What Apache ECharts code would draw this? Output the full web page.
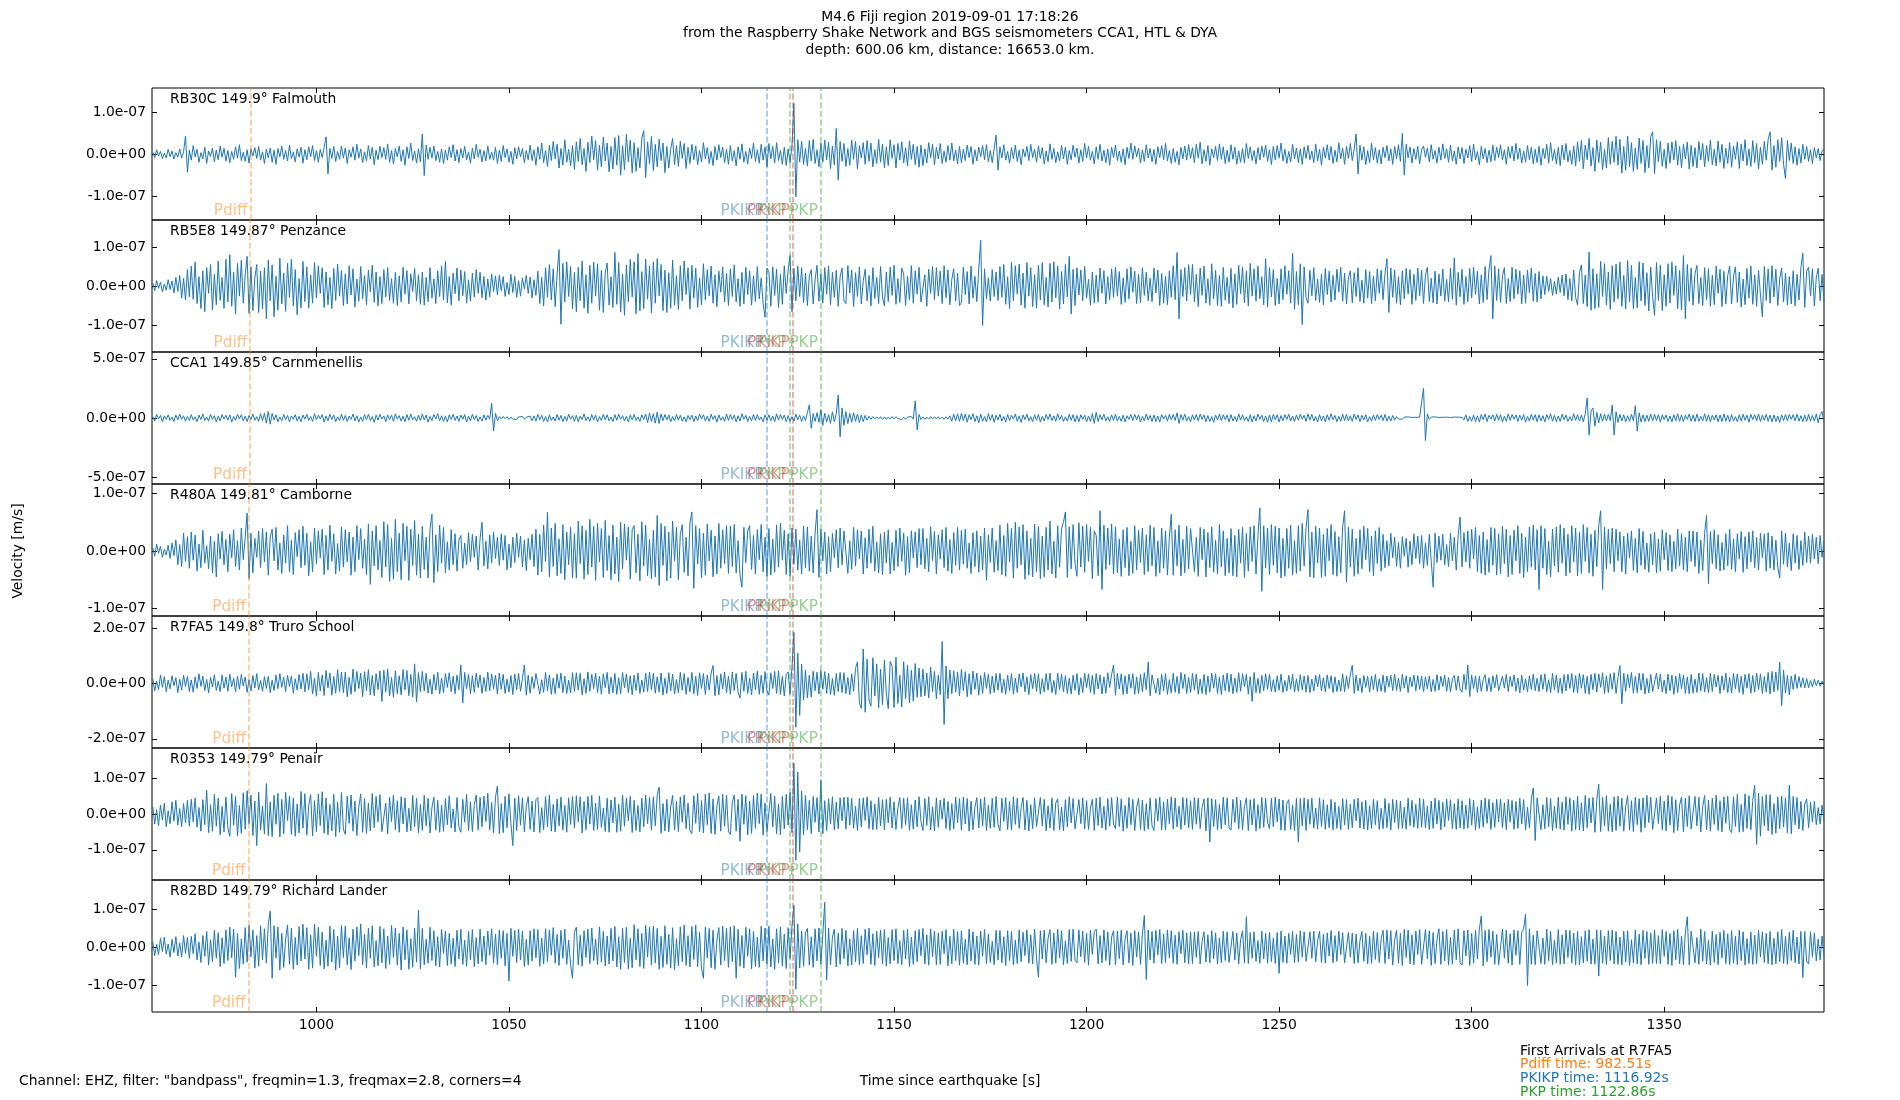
<!DOCTYPE html>
<html>
<head>
<meta charset="utf-8">
<title>M4.6 Fiji region 2019-09-01</title>
<script src="https://cdn.jsdelivr.net/npm/echarts@6/dist/echarts.min.js"></script>
<style>
  html, body { margin: 0; padding: 0; background: #fff; }
  #main { width: 1900px; height: 1100px; }
</style>
</head>
<body>
<div id="main"></div>
<script>
// velocity traces in nm/s, one value every half second from T0
var T0 = 957.5, DT = 0.5;

var rb30c = [
  5, -8, 11, -4, 7, -10, 3, -9, 12, -6, 8, -11, 4, -7, 13, -9, 6, 44, -43, 10,
  -14, 21, -6, 12, -19, 4, -11, 17, -22, 8, -5, 15, -18, 10, -13, 20, -7, 14, -16, 9,
  -20, 7, -12, 18, -9, 23, -15, 5, -17, 11, -21, 13, -4, 16, -10, 19, -14, 6, -22, 12,
  -8, 15, -19, 10, -24, 14, -6, 20, -12, 9, -16, 22, -11, 5, -18, 13, -7, 17, -21, 11,
  -13, 18, -6, 21, -15, 9, -19, 12, -8, 16, 42, -47, 14, -10, 19, -17, 7, -12, 20, -9,
  15, -22, 11, -7, 18, -14, 24, -9, 13, -20, 6, -16, 21, -11, 17, -25, 10, -13, 19, -8,
  16, -12, 25, -19, 9, -23, 14, -6, 20, -17, 11, -26, 18, -10, 27, -15, 8, -21, 13, -18,
  49, -51, 22, -12, 17, -9, 20, -15, 7, -19, 13, -22, 10, -14, 18, -8, 23, -16, 11, -20,
  14, -9, 19, -13, 6, -21, 15, -11, 24, -7, 12, -18, 9, -16, 20, -12, 5, -14, 17, -22,
  10, -17, 21, -8, 13, -19, 7, -24, 16, -11, 18, -6, 14, -20, 9, -13, 22, -15, 11, -26,
  18, -12, 27, -20, 9, -29, 22, -15, 31, -11, 24, -33, 14, -26, 35, -19, 12, -28, 21, -36,
  30, -17, 38, -25, 14, -41, 29, -20, 44, -13, 33, -38, 22, -30, 41, -16, 27, -42, 19, -35,
  40, -26, 45, -50, 21, -37, 48, -18, 34, -44, 28, -41, 16, -33, 39, 57, -56, 30, -23, 43,
  -39, 24, -30, 36, -15, 27, -44, 19, -33, 12, 38, -25, 21, -29, 31, -10, 26, -34, 17, -22,
  24, -13, 20, -25, 9, -18, 28, -11, 16, -22, 7, -27, 19, -14, 23, -8, 17, -20, 12, -24,
  21, -16, 9, -28, 18, -12, 25, -19, 7, -23, 15, -10, 27, -17, 11, -21, 24, -14, 18, -30,
  26, -11, 19, -21, 28, -15, 9, -24, 17, -27, 13, -20, 22, 122, -102, 35, -18, 31, -24, 14,
  -28, 33, -16, 36, -22, 11, -30, 27, -19, 34, -13, 29, -34, 20, -25, 62, -62, 31, -17, 26,
  -29, 14, -26, 34, -12, 31, -35, 21, -9, 28, -24, 33, -17, 27, -30, 11, -22, 36, -19, 25,
  -32, 18, -27, 35, -10, 23, -33, 26, -14, 30, -21, 16, -28, 32, -12, 24, -25, 19, -31, 22,
  -27, 13, -21, 28, -9, 24, -25, 17, -11, 26, -22, 8, -19, 21, -14, 27, -16, 10, -23, 19,
  -20, 12, -15, 22, -8, 19, -24, 11, -16, 17, -6, 21, -13, 23, -18, 9, -20, 14, 46, -38,
  18, -9, 23, -14, 7, -21, 16, -11, 22, -17, 10, -25, 13, -6, 19, -15, 24, -8, 12, -19,
  20, -10, 16, -23, 8, -18, 25, -12, 14, -20, 6, -16, 21, -11, 17, -24, 9, -13, 22, -7,
  15, -21, 11, -17, 26, -9, 19, -14, 7, -23, 18, -12, 24, -16, 10, -20, 13, -26, 17, -8,
  22, -15, 8, -19, 13, -25, 17, -10, 27, -12, 20, -6, 15, -21, 11, -17, 23, -9, 14, -18,
  12, -24, 18, -8, 21, -13, 26, -16, 9, -22, 14, -19, 7, -25, 17, -11, 20, -14, 23, -10,
  16, -20, 24, -9, 29, -23, 11, -17, 21, -26, 13, -8, 19, -15, 25, -12, 18, -22, 10, -19,
  23, -12, 17, -24, 8, -19, 14, -21, 26, -10, 18, -15, 9, -23, 16, -13, 20, -7, 22, -17,
  11, -25, 19, -14, 21, -9, 27, -16, 12, -22, 7, -18, 24, -11, 15, -20, 13, -24, 18, -10,
  21, -13, 8, -20, 25, -16, 12, -26, 17, -9, 23, -14, 19, -22, 10, -18, 28, -11, 15, -24,
  19, -10, 26, -15, 12, 49, -47, 22, -14, 18, -25, 9, -20, 27, -13, 16, -21, 11, -23, 17,
  -8, 21, -16, 13, -24, 19, -11, 23, -17, 50, -50, 24, -9, 18, -21, 14, -12, 19, -23, 10,
  20, -7, 15, -18, 23, -12, 9, -21, 17, -14, 25, -10, 13, -19, 22, -16, 8, -24, 18, -11,
  16, -22, 12, -9, 21, -17, 24, -13, 7, -25, 19, -11, 14, -20, 10, -18, 22, -15, 17, -8,
  23, -14, 11, -24, 18, -9, 20, -16, 26, -12, 15, -21, 8, -19, 21, -13, 17, -23, 12, -20,
  19, -26, 14, -10, 24, -21, 28, -15, 11, -23, 17, -27, 22, -13, 26, -18, 9, -24, 20, -28,
  30, -17, 33, -35, 22, -13, 38, -28, 16, -41, 34, -20, 29, -37, 12, -33, 40, -24, 31, -19,
  43, -26, 36, -45, 19, -38, 44, -30, 28, -41, 15, -36, 39, -22, 33, -44, 21, -33, 42, 54,
  -46, 35, -18, 31, -29, 12, -34, 27, -21, 30, -14, 33, -26, 19, -32, 24, -11, 29, -35, 22,
  -29, 16, -33, 31, -13, 26, -30, 21, -17, 34, -25, 12, -28, 32, -19, 24, -34, 15, -22, 28,
  -31, 20, -12, 30, -34, 25, -16, 35, -27, 13, -29, 33, -20, 26, -35, 17, -24, 31, -14, 36,
  54, -38, 21, -31, 35, -17, 40, -24, -58, 33, -15, 27, -22, 18, -26, 14, -21, 24, -12, 19,
  -17, 11, -22, 16, -9, 14, -15, 8, 12
];

var rb5e8 = [
  8, -12, 14, -6, 10, -15, 5, -11, 16, -9, 13, -18, 22, -14, 27, -31, 20, -36, 42, -28,
  51, -34, 62, -45, 24, -58, 39, -66, 47, -19, 55, -61, 30, -48, 64, -37, 22, -57, 68, -41,
  80, -52, 35, -71, 58, -26, 66, -44, 29, 76, -70, 49, -63, 21, 55, -68, 38, -59, 47, -84,
  67, -38, 54, -79, 25, -62, 71, -46, 33, -65, 58, -29, 69, -51, 42, -74, 19, -56, 63, -40,
  49, -57, 28, -44, 60, -31, 52, -19, 47, -55, 36, -48, 22, -58, 45, -37, 56, -26, 40, -50,
  31, -46, 52, -23, 44, -54, 18, -39, 50, -33, 27, -48, 41, -15, 53, -42, 36, -51, 24, -45,
  42, -28, 47, -37, 19, -44, 35, -50, 26, -41, 48, -21, 39, -46, 31, -14, 45, -38, 29, -47,
  36, -49, 22, -40, 47, -31, 18, -45, 39, -27, 51, -36, 63, -43, 24, -49, 33, -20, 46, -38,
  41, -25, 37, -44, 16, -39, 33, -28, 42, -19, 35, -30, 24, -36, 18, -28, 31, -14, 26, -22,
  28, -12, 24, -27, 9, -22, 30, -17, 25, -29, 14, -26, 21, -8, 27, -19, 23, -31, 16, -24,
  38, -45, 22, -51, 47, -29, 55, -36, 44, -53, 31, 93, -98, 58, -41, 62, -27, 50, -59, 35,
  -66, 48, -38, 64, -57, 29, -70, 53, -44, 61, -25, 57, -62, 40, -68, 33, 59, -49, 24, -55,
  86, -47, 60, -67, 31, -75, 54, -40, 68, -28, 62, -71, 83, -64, 37, -58, 69, -33, 51, -69,
  62, -44, 70, -25, 55, -63, 41, -68, 34, -57, 66, -49, 27, -60, 52, -38, 64, -22, 47, -59,
  53, -31, 46, -55, 20, -48, 57, -36, 42, -25, 51, -44, 29, -53, 38, -16, 49, -41, 33, -50,
  44, -27, 54, -41, 19, -52, 35, -46, 48, -22, 39, -49, 26, -40, 50, -33, 21, -44, -80, 46,
  37, -52, 49, -24, 43, -55, 30, -47, 52, -19, 41, 78, -66, 45, -38, 51, -27, 47, -43, 33,
  -50, 26, 42, -46, 17, 53, -39, 31, -44, 47, -21, 51, -48, 35, -29, 40, -52, 24, 46, -37,
  -45, 52, -18, 41, -53, 34, -27, 49, -46, 13, 43, -38, 27, -51, 47, -32, 22, -45, 50, -28,
  -51, 36, -40, 48, -24, 53, -47, 19, -42, 46, 31, -50, 25, -36, 52, -44, 39, -21, 48, -41,
  -44, 29, -52, 43, -19, 50, -35, 47, -26, 38, -45, 52, -30, 41, -48, 17, 44, -39, 33, -50,
  -43, 48, -22, 37, -46, 51, -31, 25, -40, 44, 117, -101, 44, -33, 21, -39, 42, -27, 36, -37,
  50, -29, 55, -47, 24, -58, 61, -38, 52, -21, 56, -49, 33, -57, 60, -26, 47, -53, 29, -57,
  53, -36, 60, -48, 22, -54, 58, -41, 62, -30, 51, -59, 37, -46, 55, -28, 76, -72, 43, -50,
  47, -23, 41, -38, 50, -31, 17, -49, 36, -44, 28, -41, 46, -19, 39, -46, 24, -35, 44, -29,
  48, -26, 37, -47, 21, -42, 44, -33, 49, -16, 38, -45, 30, -43, 47, -24, 35, -38, 20, -40,
  46, -18, 41, -50, 32, -44, 25, -48, 39, -29, 52, -35, 86, -84, 42, -27, 47, -38, 55, -22,
  55, -41, 30, -53, 46, -24, 51, -44, 18, -49, 57, -33, 40, -50, 27, -52, 48, -36, 22, -45,
  45, -56, 31, -47, 53, -20, 49, -43, 38, -51, 58, -26, 44, -39, 51, -32, 24, -48, 70, -54,
  47, -28, 42, -50, 19, -46, 44, -35, 52, -21, 39, -44, 84, -60, 37, -48, 57, -99, 49, -30,
  -44, 40, -25, 47, -37, 18, -42, 31, -48, 45, -22, 38, -41, 27, -36, 43, -16, 48, -39, 33,
  -46, 21, 39, -43, 34, -27, 47, -40, 15, -44, 42, -31, 37, -45, 26, -38, 44, -19, 41, -35,
  32, 70, -68, 46, -29, 41, -44, 24, -48, 39, -33, 45, -21, 42, -47, 30, -37, 46, -25, 41,
  -45, 28, 48, -40, 20, -43, 38, -46, 31, -26, 44, -39, 17, -41, 46, -34, 72, -49, 35, -28,
  43, -47, 24, -40, 45, -31, 48, -22, 38, -46, 29, -42, 50, -35, 41, 78, -84, 51, -37, 44,
  -42, 26, 47, -45, 19, -40, 48, -33, 43, -21, 39, -46, 28, -44, 41, -17, 46, -39, 32, -41,
  37, -33, 26, -22, 25, -14, 19, -24, 12, -21, 23, -17, 28, -25, 31, -35, 19, -38, 41, -29,
  -49, 34, 54, -45, 28, -53, 87, -62, 44, -58, 31, -55, 63, -27, 57, -49, 36, -60, 52, -41,
  56, -33, 61, -52, 27, -59, 65, -41, 53, -58, 22, -56, 62, -38, 59, -50, 34, -64, 48, -29,
  -75, 60, -37, 54, -63, 29, -52, 57, -44, 61, -24, 52, -58, 40, -61, 78, -84, 55, -39, 46,
  -49, 31, 53, -45, 22, -50, 47, -36, 44, -52, 28, -48, 51, -19, 43, -53, 38, -46, 27, 51,
  -46, 25, 49, -42, 36, -54, 18, -48, 45, -31, 51, -47, 29, -52, 40, -23, -79, 50, -37, 44,
  -44, 52, -28, 43, -50, 19, 46, -41, 33, -49, 24, -46, 39, -51, 30, -36, 47, 84, -55, 38,
  48, -26, 44, -51, 22, 46, -38, 30, -42
];

var cca1 = [
  14, -26, 31, -9, 22, -33, 18, -12, 27, -20, 8, -29, 24, -16, 33, -11, 19, -27, 13, -22,
  28, -17, 10, -31, 25, -14, 34, -21, 7, -26, 30, -12, 19, -33, 15, -24, 29, -8, 23, -18,
  26, -35, 12, -20, 31, -9, 27, -24, 16, -30, 21, -13, 34, -19, 11, -28, 36, -22, 40, -44,
  56, -52, 38, -17, 27, -31, 9, -24, 30, -15, 22, -33, 18, -11, 29, -26, 14, -32, 25, -10,
  31, -20, 13, -29, 35, -16, 24, -8, 28, -34, 17, -23, 32, -12, 26, -30, 10, -21, 33, -19,
  22, -30, 16, -11, 34, -25, 19, -33, 9, -27, 28, -14, 31, -22, 12, -36, 24, -17, 30, -9,
  18, -32, 27, -13, 23, -28, 35, -10, 20, -26, 14, -31, 29, -19, 33, -15, 11, -27, 25, -21,
  32, -16, 24, -35, 13, -22, 30, -9, 37, -25, 19, -28, 15, -33, 26, -12, 31, -20, 17, -29,
  25, -11, 29, -34, 16, -23, 33, -14, 21, -30, 10, -26, 27, -18, 22, -9, 124, -110, 40, -22,
  12, -9, 14, -6, 11, -13, 8, -10, 5, -12, 9, -7, 13, -11, 6, -9, 16, -24, 18, -27,
  31, -15, 24, -29, 12, -33, 27, -20, 9, -25, 30, -18, 22, -31, 14, -26, 33, -11, 19, -28,
  23, -30, 16, -13, 34, -22, 10, -27, 29, -17, 25, -33, 12, -21, 31, -15, 27, -24, 8, -30,
  28, -19, 32, -11, 20, -26, 14, -34, 24, -16, 30, -22, 9, -29, 27, -13, 33, -38, 41, -30,
  36, -44, 50, -47, 35, -22, 29, -15, 26, -31, 12, -24, 30, -18, 23, -27, 10, -33, 21, -14,
  25, -31, 17, -22, 33, -9, 28, -24, 15, -29, 32, -12, 20, -35, 26, -18, 11, -28, 34, -21,
  30, -14, 24, -33, 19, -27, 36, -11, 23, -30, 13, -25, 31, -20, 28, -16, 9, -32, 26, -19,
  27, -23, 15, -31, 35, -18, 29, -12, 25, -32, 20, -28, 11, -26, 33, -15, 24, -30, 18, -22,
  45, 110, -87, 38, -29, 44, -36, 70, -62, 41, -35, 28, -46, 52, -31, 36, 194, -158, 85, -62,
  54, -47, 40, -36, 44, -28, 33, -38, 25, -30, 22, -18, 15, -11, 12, -9, 10, -8, 11, -12,
  9, -12, 7, -10, 13, -8, 11, -6, 10, -13, 8, -11, 7, -9, 12, -10, 144, -100, 30, -14,
  9, -11, 7, -10, 12, -8, 10, -7, 11, -9, 8, -12, 10, -9, 18, -26, 31, -24, 35, -29,
  38, -22, 33, -35, 27, -14, 36, -31, 19, -40, 34, -28, 12, -33, 37, -20, 29, -36, 24, -17,
  32, -27, 13, -35, 30, -21, 24, -9, 33, -28, 18, -36, 26, -14, 31, -23, 11, -30, 27, -19,
  29, -34, 15, -25, 30, -12, 33, -22, 18, -27, 35, -16, 23, -30, 10, -26, 31, -19, 28, -33,
  21, -31, 28, -13, 24, -33, 17, -29, 37, -45, 48, -30, 27, -15, 32, -24, 11, -28, 26, -20,
  32, -26, 14, -28, 24, -33, 19, -11, 29, -22, 31, -16, 27, -34, 13, -25, 34, -18, 22, -30,
  25, -30, 17, -35, 28, -9, 23, -26, 31, -14, 29, -21, 44, -46, 29, -18, 33, -24, 12, -31,
  27, -15, 30, -24, 34, -12, 26, -31, 20, -29, 11, -36, 25, -17, 32, -22, 28, -13, 24, -33,
  29, -26, 13, -31, 35, -18, 27, -22, 10, -30, 28, -34, 19, -25, 33, -11, 24, -29, 16, -35,
  25, -32, 30, -14, 27, -34, 21, -24, 29, -12, 33, -26, 17, -30, 26, -19, 32, -10, 23, -28,
  35, -17, 31, -26, 12, -33, 29, -24, 18, -32, 27, -20, 36, -15, 22, -31, 14, -28, 32, -23,
  30, -25, 19, -29, 34, -13, 27, -31, 23, -16, 28, -32, 11, -26, 25, -20, 30, -14, 24, -22,
  30, -27, 15, -26, 22, -18, 12, -9, 7, -10, 8, -6, 9, -7, 5, -8, 6, -4, 7, -5,
  250, -190, 35, -12, 8, -6, 9, -7, 5, -8, 6, -5, 7, -9, 4, -6, 8, -5, 7, -6,
  5, -15, 26, -30, 12, -27, 24, -31, 18, -35, 30, -14, 34, -29, 23, -10, 27, -25, 31, -20,
  28, -33, 14, -27, 35, -22, 30, -11, 26, -28, 24, -19, 29, -35, 13, -26, 31, -17, 28, -31,
  26, -24, 19, -33, 29, -12, 35, -27, 22, -31, 17, -29, 33, -15, 25, -30, 11, -24, 36, -20,
  28, -26, 24, -32, 36, 169, -144, 60, 85, -70, 48, -40, 36, -28, 33, -25, 30, -22, 110, -144,
  52, -38, 30, -25, 28, -33, 19, -27, 31, -24, 104, -110, 44, -33, 27, -30, 24, -28, 33, -26,
  31, -22, 29, -35, 27, -14, 25, -30, 17, -33, 28, -24, 36, -29, 26, -31, 23, -12, 34, -27,
  25, -30, 33, -28, 14, -24, 36, -29, 26, -31, 23, -17, 28, -32, 26, -30, 35, -27, 23, -34,
  29, -25, 11, -31, 28, -26, 32, -19, 24, -35, 30, -13, 27, -23, 34, -29, 25, -20, 31, -28,
  24, -33, 27, -30, 16, -36, 26, -22, 29, -25, 31, -12, 28, -24, 33, -27, 20, -31, 25, -29,
  31, -28, 22, -26, 34, -40, 29, 55, -40
];

var r480a = [
  6, -9, 12, -4, 8, -11, 3, -7, 10, -13, 14, -8, 19, -24, 11, -27, 31, -18, 25, -30,
  33, -16, 28, -35, 12, -29, 36, -21, 9, -31, 26, -38, 17, -45, 30, -14, 34, -24, 20, -36,
  29, -12, 37, -27, 18, -33, 40, -15, 24, 66, -48, 31, -38, 22, -11, 35, -29, 39, -19, 33,
  -42, 24, 38, -17, 41, -33, 14, -39, 28, -21, 44, -36, 19, -41, 32, -10, 37, -29, 43, -25,
  31, -43, 16, -36, 40, -22, 35, -12, 38, -41, 27, -33, 45, -18, 30, -40, 13, -35, 42, -28,
  37, -19, 33, -42, 24, -36, 44, -15, 39, -30, 21, -41, 47, -58, 35, -26, 44, -33, 18, -46,
  51, -28, 46, -53, 22, -49, 55, -36, 31, -50, 48, -17, 43, -51, 38, -25, 53, -42, 29, -47,
  43, -32, 24, -47, 39, 64, -55, 28, -36, 45, -21, 41, -38, 16, -33, 37, -24, 30, -35, 19,
  27, -30, 14, -24, 32, -19, 29, -11, 26, -33, 22, 50, -26, 17, -31, 28, -21, 33, -13, 24,
  -25, 30, -16, 27, -33, 12, -29, 24, -20, 31, -11, 26, -28, 19, -34, 22, -15, 29, -27, 38,
  -42, 29, -36, 45, -18, 67, -45, 40, -27, 48, -43, 21, -39, 46, -50, 33, -24, 41, -47, 30,
  -47, 52, -22, 44, -49, 36, -41, 55, -28, 43, -51, 48, -19, 39, -46, 53, -34, 27, -50, 45,
  -40, 24, -53, 50, -31, 47, -16, 42, -49, 37, 44, -38, 29, -52, 51, -26, 45, -43, 20, -48,
  36, -45, 62, -60, 48, -25, 43, -52, 33, -47, 52, -18, 41, -50, 29, 46, -37, 24, -43, 49,
  68, -65, 44, -23, 39, -47, 31, -42, 47, -17, 36, -45, 26, -40, 48, -30, 37, -22, 44, -39,
  43, -27, 46, -38, 18, -41, -63, 41, -20, 35, 44, -32, 27, -40, 37, -15, 46, -36, 24, -44,
  39, -42, 21, -37, 45, -28, 48, -16, 36, -41, 30, -44, 40, -23, 38, -33, 19, -40, 43, -29,
  42, -35, 26, -38, 31, 72, -46, 38, -17, 33, -40, 25, -36, 31, -12, 37, -29, 40, -24, 35,
  34, -39, 18, -32, 41, -26, 37, -14, 35, -40, 23, -30, 38, -21, 43, -35, 16, -38, 30, -41,
  33, -21, 37, -40, 15, -34, 36, -27, 40, -18, 31, -42, 25, -38, 35, -12, 33, -29, 39, -24,
  39, -31, 22, -36, 42, -17, 34, -40, 28, -14, 37, -29, 41, -35, 20, -39, 32, -25, 41, -33,
  36, -23, 38, -30, 14, -39, 32, -27, 35, -37, 26, -33, 40, -51, 28, -20, 40, -37, 18, -34,
  45, -41, 27, -44, 48, -19, 39, -47, 50, -30, 42, -24, 46, -49, 35, -42, 22, -45, 47, -36,
  43, -48, 26, -45, 41, -33, 52, -40, 17, -47, 44, -28, 39, 50, 68, -46, 42, -31, 46, -22,
  -44, 49, -28, 43, -37, 46, -18, 41, -48, 35, 27, -43, 70, -67, 45, -32, 40, -24, 47, -40,
  42, -38, 21, -44, 37, -29, 41, -43, 17, -39, 44, -33, 36, -20, 40, -41, 28, -36, 45, -26,
  41, -44, 18, -38, 40, -30, 35, -42, 24, 64, -42, 37, -26, 45, -43, 20, -38, 43, -31, 39,
  40, -36, 24, -44, 41, -15, 38, -45, 32, -29, 42, -37, 19, -40, 46, -28, 35, -43, 22, -38,
  39, -43, 27, -45, 38, -21, 41, -46, 31, -35, 42, -18, 44, -40, 27, 75, -70, 44, -29, 40,
  -41, 46, -25, 43, -38, 40, -47, 22, -44, 39, -30, 45, -42, 18, -39, 44, -35, 48, -26, 41,
  72, -45, 33, -47, 43, -21, 40, -46, 29, -44, 39, -17, 46, -41, 34, -44, 25, -38, 42, 70,
  -54, 42, -28, 38, -44, 22, -40, 37, -31, 43, -15, 39, -36, 26, -43, 35, -22, 41, -35, 29,
  -29, 18, -26, 31, -12, 24, -27, 15, -30, 25, -9, 22, -28, 17, -24, 30, -13, 26, -22, 27,
  -30, 14, -25, 29, -18, -63, 31, -20, 26, -16, 29, -24, 11, -27, 31, -17, 24, -33, 28, 59,
  -28, 32, -19, 35, -30, 38, -14, 41, -36, 27, -39, 33, -42, 20, -37, 41, -25, 39, -42, 30,
  -40, 43, -22, 38, -45, 27, -41, 36, -17, 44, -39, 31, -46, 24, -36, 42, -28, 45, -33, 37,
  -67, 44, -30, 39, -41, 17, -45, 38, -26, 42, -37, 46, -21, 40, -43, 29, -38, 44, -19, 40,
  -43, 33, -39, 46, -18, 41, -38, 29, -44, 36, -27, 44, 70, -67, 42, -31, 38, -22, 40, -36,
  38, -17, 33, -36, 26, -40, 31, -12, 35, -34, 22, -38, 39, -25, 34, -32, 14, -37, 30, -24,
  33, -38, 21, -35, 37, -15, 32, -34, 28, -36, 17, -31, 38, -26, 30, -33, 24, -36, 35, -18,
  35, -27, 33, -39, 19, -34, 31, 62, -57, 34, -22, 37, -31, 28, -35, 15, -33, 30, -26, 38,
  -32, 21, -36, 30, -14, 34, -37, 25, -31, 33, -19, 35, -29, 24, -33, 31, -12, 29, -35, 32,
  -30, 26, -33, 19, -29, -47, 35, -23, 31, -28, 14, -34, 30, -21, 27, -32, 18, -25, 33, -20,
  26, -21, 29, -14, 24, -22, 27, -11, 19
];

var r7fa5 = [
  18, -27, 9, -22, 31, -14, 25, -30, 12, -19, 28, -8, 21, -33, 16, -24, 30, -11, 26, -29,
  13, -31, 24, -18, 35, -10, 27, -26, 15, -34, 22, -13, 32, -25, 8, -29, 31, -17, 23, -28,
  34, -12, 19, -30, 26, -21, 33, -9, 24, -32, 14, -27, 29, -16, 36, -23, 11, -28, 25, -18,
  26, -33, 12, -25, 31, -19, 36, -14, 22, -29, 30, -11, 27, -35, 17, -24, 33, -20, 37, -30,
  35, -22, 44, -38, 19, -46, 40, -27, 31, -43, 47, -16, 38, -42, 25, -35, 50, -29, 41, -33,
  41, -48, 23, -39, 52, -30, 44, -18, 37, -47, 43, -26, 50, -41, 29, -44, 36, -22, 46, -65,
  48, -31, 53, -45, 22, -50, 46, -37, 28, -41, 51, -24, 47, -44, 33, -49, 71, -66, 40, -30,
  44, -27, 37, -35, 16, -39, 33, -24, 41, -38, 20, -33, 36, -14, 39, -30, 26, -37, 31, -22,
  67, -70, 40, -19, 34, -37, 28, -32, 38, -15, 31, -36, 22, -29, 41, -26, 35, -20, 30, -38,
  38, -21, 33, -36, 16, -31, 29, -40, 34, -23, 37, -28, 19, 67, -42, 30, -35, 25, -18, 36,
  33, -38, 14, -32, 40, -26, 31, -39, 20, -37, 35, -17, 38, -33, 27, -36, 12, -34, 39, -29,
  39, -24, 37, -41, 18, -36, 42, -28, 33, -19, 38, -32, 26, -39, 35, -15, 40, -37, 23, -34,
  36, -39, 21, -37, 40, -16, 35, -33, 28, -41, 30, -25, 38, -36, 13, -31, 37, -29, 41, -22,
  37, -35, 24, -31, 38, -42, 19, -36, 39, -27, 34, -38, 15, -33, 40, -24, 36, -39, 22, -30,
  40, -37, 26, -43, 39, -18, 36, -40, 31, -24, 38, 65, -44, 29, -41, 35, -20, 42, -33, 27,
  -39, 42, -25, 37, -31, -53, 40, -28, 44, -36, 19, -41, 38, -23, 45, -39, 30, -35, 43, -26,
  -42, 39, -18, 44, -36, 46, -40, 27, -45, 33, 42, -38, 60, 185, -158, 110, -115, 70, -60, 48,
  -52, 30, -49, 44, -26, 41, -38, 47, -21, 43, -36, 38, -40, 18, -43, 36, -29, 40, -33, 39,
  -37, 22, -41, 35, -28, 55, 78, -70, -90, 125, -104, 88, -60, -82, 93, -45, 71, -88, 52, -76,
  84, -35, -91, 80, 62, -87, 95, -72, 30, -85, 79, -55, 67, -70, 48, -64, 72, -50, 56, -48,
  52, -45, 38, -52, 60, -29, 44, -55, 31, -40, 152, -148, 64, -55, 49, -37, 46, -31, 42, -44,
  51, -26, 43, -48, 35, -40, 45, -21, 38, -42, 29, -36, 40, -18, 34, -38, 27, -33, 36, -24,
  37, -34, 15, -39, 31, -26, 36, -38, 20, -33, 35, -12, 38, -30, 24, -40, 32, -19, 37, -28,
  35, -39, 18, -31, 36, -24, 38, -33, 11, -40, 37, -22, 34, -30, 28, -36, 19, -38, 30, -25,
  36, -41, 21, -33, 38, -15, 35, -32, 29, -39, 36, -20, 31, -38, 24, -35, 39, -14, 33, 67,
  -42, 37, -20, 35, -40, 28, -38, 34, -17, 36, -39, 24, -36, 33, -30, 39, -22, 77, -44, 31,
  38, -35, 19, -41, 33, -27, 36, -39, 14, -34, 37, -32, 26, -37, 40, -18, 34, -36, 22, -32,
  37, -24, 34, -39, 16, -36, 33, -40, 27, -31, 38, -17, 35, -36, 23, -40, 31, -26, 38, -30,
  34, -37, 20, -32, 39, -28, 36, -12, 33, -38, 25, -65, 40, -33, 19, -35, 30, -26, 35, -21,
  33, -29, 14, -31, 28, -24, 34, -32, 11, -27, 30, -20, 34, -31, 17, -28, 32, -23, 27, -31,
  29, -33, 16, -27, 30, -12, 32, -26, 21, -30, 31, -18, 28, -33, 24, -29, 13, -28, 35, -30,
  28, -18, 33, 66, -36, 30, -27, 20, -33, 29, -14, 26, -31, 28, -22, 33, -29, 17, -28, 31,
  -32, 27, -13, 30, -26, 34, -25, 19, -29, 33, -17, 28, -33, 24, -12, 31, -26, 29, -21, 27,
  -29, 24, -19, 27, -30, 15, -28, 32, -24, 26, -11, 31, -28, 22, -30, 17, 29, -24, 27, -20,
  -31, 33, -22, 67, -47, 30, -18, 27, -33, 26, -29, 14, 32, -28, 21, -30, 28, -15, 32, -26,
  -30, 27, -17, 33, -29, 25, -12, 31, -28, 20, -34, 30, -24, 16, -30, 28, -21, 34, -26, 19,
  -29, 32, -21, 35, -30, 14, -33, 37, -24, 31, -34, 19, -36, 32, -27, 34, -18, 36, -32, 29,
  -34, 38, -17, 32, -36, 26, -39, 33, -22, 37, -31, 35, -14, 39, -37, 28, -33, 36, -21, 39,
  -36, 22, 65, -73, 37, -28, 34, -15, 40, -35, 26, -33, 38, -24, 36, -38, 18, -34, 33, -29,
  -33, 38, -20, 35, -31, 13, -37, 34, -26, 30, -39, 27, -33, 36, -19, 31, -35, 24, -37, 33,
  -35, 16, -32, 38, -27, 36, -31, 21, -34, 37, -29, 33, -13, 30, -37, 28, -24, 38, -33, 22,
  -34, 37, -19, 35, -32, 26, -39, 33, -17, 36, -35, 29, -31, 38, -22, 34, -36, 25, -31, 40,
  -38, 44, -30, 41, -25, 77, -80, 48, -35, 29, -41, 27, -21, 33, -18, 25, -14, 21, -16, 18,
  -15, 11, -13, 16, -8, 12, -10, 9, -7
];

var r0353 = [
  21, -28, 12, -33, 25, -17, 30, -36, 9, -27, 34, -20, 38, -31, 15, -35, 29, -24, 38, -34,
  41, -22, 45, -37, 18, -48, 40, -30, 66, -52, 26, -48, 55, -34, 44, -58, 21, -50, 47, -39,
  -62, 57, -31, 49, -61, 24, -54, 59, -43, 65, -27, 53, -60, 36, -88, 61, -45, 22, -56, 85,
  -60, 34, -63, 52, -29, 58, -64, 41, -55, 61, -18, 50, -57, 44, -62, 28, -53, 63, -39, 57,
  -59, 24, 54, -61, 37, -49, 56, -32, 62, -53, 45, -58, 27, -47, 55, -63, 33, -51, 60, -42,
  -57, 50, -26, 53, -48, 36, -60, 19, 56, -51, 43, -54, 31, -47, 57, -38, 49, -22, 54, -49,
  -52, 30, -55, 46, -21, 53, -44, 37, -51, 48, -28, 45, -50, 16, -47, 52, -35, 44, -53, 27,
  -46, 52, -33, 44, -53, 19, 47, -45, 38, -51, 25, -48, 43, -30, 51, -39, 14, -50, 46, -37,
  -51, 41, -23, 55, -47, 34, -49, 26, 53, -44, 46, -36, 50, -21, 58, -44, 32, -53, 48, 78,
  -55, 29, -52, 49, -38, 56, -26, -88, 44, -47, 51, -31, 45, -50, 22, 48, -43, 36, -50, 40,
  46, -52, 18, -44, 49, -36, 53, -48, 27, -50, 42, -33, 47, -45, 24, -51, 45, -29, 49, -39,
  51, -22, 48, -53, 35, -44, 49, -28, 52, -46, 30, -43, 50, -37, 16, -49, 44, -51, 39, -25,
  47, -51, 28, -48, 53, -34, 45, -19, 49, -52, 38, -46, 24, -50, 44, -36, 53, -27, 46, -45,
  48, -33, 52, 75, -54, 29, -47, 41, -50, 20, 52, -45, 36, -49, 48, -23, 53, -41, 30, -46,
  -55, 51, -26, 58, -49, 37, -53, 56, -30, 59, -54, 42, -57, 22, 50, -48, 55, -34, 53, -50,
  -57, 33, 53, -48, 41, -76, 55, -29, 51, -58, 36, -54, 52, -40, 58, -27, 56, -59, 31, -49,
  -53, 57, -36, 50, -55, 28, -58, 49, -42, 55, -31, 60, -52, 142, -129, 117, -106, 64, -58, 52,
  -44, 38, -55, 49, -23, 46, -50, 94, -55, 37, -46, 43, -28, 48, -45, 33, -41, 45, -19, 47,
  -42, 47, -31, 44, -40, 22, -46, 43, -36, 45, -18, 48, -41, 37, -44, 28, -43, 46, -33, 40,
  -44, 41, -25, 47, -39, 34, -43, 17, 46, -40, 44, -30, 45, -45, 26, -42, 39, -36, 48, -21,
  -46, 43, -32, 48, -44, 20, -47, 45, -37, 39, -15, 44, -41, 35, -46, 29, -42, 47, -24, 43,
  -45, 47, -28, 43, -48, 36, -44, 19, 46, -39, 42, -33, 47, -46, 25, -40, 44, -37, 49, -30,
  -47, 44, -21, 46, -43, 35, -45, 48, -29, 44, -40, 17, 46, -44, 38, -47, 26, -41, 45, -35,
  -40, 46, -33, 41, -47, 23, -39, 45, -46, 31, 42, -44, 19, -47, 40, -36, 48, -25, 43, -42,
  -44, 40, -27, 45, -42, 37, -43, 16, 41, -46, 44, -32, 47, -39, 22, -45, 43, -34, 46, -28,
  -41, 47, -35, 42, -48, 24, -40, 46, -30, 41, -46, 18, 44, -43, 39, -47, 29, -42, 45, -33,
  -46, 43, -20, 47, -44, 34, -45, 41, -27, 48, -42, 45, -36, 22, -43, 46, -31, 44, -39, 37,
  -43, 46, -29, 44, -41, 18, 42, -47, 45, -78, 43, -35, 40, -44, 27, -42, 47, -30, 45, -39,
  -45, 41, -24, 47, -42, 38, -44, 20, 45, -46, 40, -31, 43, -48, 26, -41, 46, -37, 44, -23,
  -41, 44, -36, 47, -22, 42, -45, 39, -46, 30, 40, -43, 25, -47, 44, -78, 43, -33, 45, -46,
  41, -29, 44, -39, 17, -42, 45, -35, 40, -43, 26, -38, 41, -44, 33, -40, 21, -44, 43, -31,
  40, -43, 28, -38, 41, -19, 44, -39, 34, -42, 38, -45, 23, -40, 42, -30, 37, -43, 16, -41,
  43, -38, 30, -44, 41, -24, 39, -42, 36, -40, 19, -43, 44, -33, 38, -37, 27, -40, 44, -37,
  41, -39, 22, -43, 36, -40, 44, -28, 38, -44, 33, -36, 42, -18, 40, -41, 29, -43, 42, -39,
  37, -42, 25, -40, 43, -31, 38, -44, 20, -40, 39, -37, 44, -26, 41, -43, 32, -37, 41, -22,
  42, -39, 31, -44, 41, -23, 38, -43, 35, -40, 44, -28, 40, -45, 19, -39, 42, 73, -74, 45,
  48, -44, 26, -41, 46, -36, 43, -47, 22, -40, 47, -42, 33, -45, 48, -29, 45, -48, 38, -44,
  50, -45, 31, -47, 52, -38, 44, -25, 46, -51, 40, 83, -49, 46, -33, 51, -48, 28, -50, 48,
  -46, 50, -34, 44, -48, 21, 51, -45, 37, -49, 47, -30, 43, -51, 45, -38, 52, -24, 47, -43,
  -48, 45, -27, 50, -44, 36, -47, 52, -31, 49, -52, 40, -46, 25, 47, -50, 44, -35, 51, -42,
  -45, 49, -33, 47, -50, 20, 52, -44, 39, -48, 44, -29, 53, -46, 37, -50, 48, -26, 50, -44,
  -52, 48, -35, 55, -51, 27, -49, 56, -40, 51, -44, 38, 80, -85, 58, -62, 49, -33, 54, -47,
  54, -57, 29, -53, 48, -41, 50, -36, 45, -52, 80, -55, 49, -30, 46, -42, 35, -46, 28, 42,
  -38, 33, -22, 35, -30, 18, -28, 25, -20
];

var r82bd = [
  15, -22, 8, -19, 24, -11, 27, -18, 9, -26, 21, -14, 28, -23, 12, -25, 31, -16, 26, -29,
  29, -17, 36, -33, 14, -40, 31, -24, 42, -47, 20, -38, 45, -29, 39, -51, 25, -43, 46, -35,
  53, -28, 48, -79, 36, -56, 22, -44, 52, -39, 58, -25, 46, -55, 31, -50, 57, -33, 49, -42,
  60, 96, -82, 57, -28, 54, -60, 37, -53, 22, 59, -45, 51, -58, 26, -47, 55, -36, 61, -31,
  52, -58, 33, -55, 61, -24, 53, -48, 40, -57, 19, -50, 56, -39, 47, -60, 30, -54, 58, -27,
  56, -47, 25, -59, 48, -36, 54, -22, 62, -46, 35, -55, 51, -29, 57, -52, 18, -49, 55, -41,
  49, -56, 30, -45, 58, -27, 51, -47, 37, -60, 54, -33, 46, -58, 23, -53, 50, -39, 98, -57,
  50, -46, 21, -42, 53, -35, 44, -49, 28, -52, 47, -16, 43, -48, 37, -44, 24, -51, 45, -31,
  48, -45, 19, -50, 42, -33, 47, -51, 26, -44, 48, -38, 30, -46, 43, -21, 49, -42, 35, -47,
  46, -29, 44, -49, 37, -89, 50, -24, 45, -40, 48, -33, 43, -51, 21, -47, 44, -36, 49, -28,
  47, -50, 25, -44, 49, -38, 46, -21, 52, -42, 34, -48, 45, -29, 48, -45, 19, -46, -82, 40,
  53, -47, 32, -50, 44, -27, 48, -43, 51, -35, 22, -46, 54, -39, 42, -49, 30, -44, 50, -36,
  55, -52, 28, -58, 50, -40, 53, -57, 24, -54, 60, -33, 49, -51, 37, -56, 58, -26, 53, -47,
  56, -41, 50, -58, 29, -53, 57, -45, 34, -55, 52, -60, 23, -49, 54, -38, 59, -48, 31, -52,
  55, -32, 59, -51, 40, -56, -82, 53, -28, 50, -54, 45, -58, 19, 52, -47, 56, -35, 50, -53,
  54, -38, 57, -82, 48, -50, 31, -55, 53, -24, 49, -57, 42, -51, 27, -53, 56, -36, 51, -44,
  56, -52, 22, -58, 49, -41, 54, -50, 35, -56, 52, -30, 58, 111, -111, 62, -55, 43, -50, 38,
  50, -47, 28, -53, 49, -36, 51, -44, 33, 119, -86, 51, -46, 27, 48, -52, 37, -45, 50, -30,
  45, -49, 22, -47, 44, -38, 50, -46, 31, -43, 48, -20, 51, -45, 36, -48, 43, -27, 46, -44,
  47, -50, 26, -44, 47, -35, 49, -43, 18, -46, 45, -31, 48, -51, 27, -45, 44, -38, 47, -22,
  50, -44, 33, -47, 49, -25, 43, -46, 38, -45, 42, -17, 47, -49, 29, -44, 48, -35, 42, -47,
  44, -42, 21, -46, 48, -36, 41, -45, 30, -47, 43, -24, 47, -43, 35, -40, 16, -46, 45, -33,
  45, -41, 28, -48, 44, -35, 42, -47, 19, -43, 46, -38, 40, -22, 46, -42, 33, -44, 48, -29,
  -79, 44, -31, 46, -41, 24, 47, -45, 38, -42, 48, -28, 44, -46, 17, -43, 47, -37, 48, -34,
  -41, 46, -25, 43, -40, 37, -47, 45, -19, 42, 48, -44, 31, -41, 46, -35, 41, -47, 27, 44,
  -46, 43, -30, 45, -47, 22, 44, -41, 38, -48, 44, -26, 41, -45, 35, 84, -85, 46, -33, 42,
  -42, 45, -20, 47, -43, 35, -40, 46, -28, 44, -42, 32, -45, 41, -17, 45, -41, 38, -44, 41,
  -43, 40, -27, 42, -44, 16, 41, -39, 33, -41, 44, -30, 38, -44, 25, -41, 43, -35, 41, -40,
  -40, 42, -33, 38, -44, 21, 44, -41, 81, -43, 39, -29, 41, -37, 18, -42, 43, -31, 37, -42,
  40, -38, 24, -43, 39, -69, 43, -40, 30, -42, 37, -19, 42, -41, 34, -39, 44, -26, 41, -37,
  -39, 41, -29, 43, -38, 17, 42, -40, 35, -42, 38, -23, 44, -41, 31, -37, 43, -20, 39, -41,
  -42, 40, -26, 38, -43, 35, -41, 18, 42, -37, 37, -44, 29, -42, 43, -32, 39, -40, 22, 45,
  -43, 46, -31, 44, -47, 20, 45, -42, 37, -48, 48, -27, 46, -44, 33, -46, 43, -19, 47, -45,
  -45, 47, -30, 44, -48, 39, -43, 21, 49, -45, 42, -36, 47, -47, 26, -44, 46, -33, 49, -41,
  -47, 44, -23, 46, -48, 37, -42, 45, -31, 48, 83, -49, 45, -38, 47, -26, 43, -45, 34, -47,
  -44, 48, -29, 45, -42, 36, -47, 46, -21, 44, -45, 40, 49, 88, -101, 49, -45, 32, -46, 44,
  47, -43, 25, -45, 48, -36, 42, -46, 19, -41, 47, -45, 33, -44, 46, -27, 45, -42, 38, -47,
  43, -46, 28, -41, 44, -37, 47, -44, 22, -45, 46, -76, 45, -42, 30, -46, 44, -35, 46, -44,
  42, -45, 27, -47, 43, -39, 44, -48, 20, -41, 46, -44, 35, -46, 45, -29, 42, -45, 38, -42,
  46, -43, 31, -44, 47, -24, 42, -45, 37, -48, 44, -33, 48, -44, 29, -46, 40, 81, -46, 43,
  43, -41, 26, -45, 48, -37, 42, -44, 19, -47, 43, -40, 34, -46, 40, -28, 45, -43, 36, -46,
  44, -42, 30, -46, 45, -35, 41, -47, 23, -43, 40, -45, 32, -43, 45, -26, 41, -40, 37, -43,
  42, -46, 24, -44, 41, -38, 47, -43, 29, -45, 40, -35, 45, -41, 27, -44, 42, -80, 42, -38,
  -44, 41, -26, 38, -36, 22, -33, 30, -27
];

var stationNames = ['RB30C 149.9° Falmouth', 'RB5E8 149.87° Penzance', 'CCA1 149.85° Carnmenellis',
  'R480A 149.81° Camborne', 'R7FA5 149.8° Truro School', 'R0353 149.79° Penair', 'R82BD 149.79° Richard Lander'];
var traces = [rb30c, rb5e8, cca1, r480a, r7fa5, r0353, r82bd];

// axis limits (m/s) and tick steps per panel
var yMax = [1.59e-7, 1.69e-7, 5.57e-7, 1.165e-7, 2.44e-7, 1.84e-7, 1.78e-7];
var yMin = [-1.575e-7, -1.69e-7, -5.57e-7, -1.13e-7, -2.33e-7, -1.84e-7, -1.71e-7];
var yStep = [1e-7, 1e-7, 5e-7, 1e-7, 2e-7, 1e-7, 1e-7];
var xTicks = [1000, 1050, 1100, 1150, 1200, 1250, 1300, 1350];
var X_MIN = 957.3, X_MAX = 1391.5;

// arrivals (s)
var pdiffT = [982.9, 982.8, 982.7, 982.5, 982.5, 982.4, 982.4];
var pkikpT = 1116.9, pkpT = 1122.86, pkikpRedT = 1123.7, pkpLateT = 1131.0;

var FONT = 'DejaVu Sans';
var C_PDIFF = 'rgba(255,127,14,0.5)', C_PKIKP = 'rgba(31,119,180,0.5)',
    C_RED = 'rgba(214,39,40,0.5)', C_PKP = 'rgba(44,160,44,0.5)';

function sci(v) {
  if (v === 0) return '0.0e+00';
  var s = v.toExponential(1).split('e');
  var e = s[1], sign = e.charAt(0) === '-' ? '-' : '+';
  var d = e.replace(/[+-]/, '');
  if (d.length < 2) d = '0' + d;
  return s[0] + 'e' + sign + d;
}

var myChart = echarts.init(document.getElementById('main'));

var grids = [], xAxes = [], yAxes = [], series = [];
for (var i = 0; i < 7; i++) {
  var last = (i === 6);
  var yt = [-yStep[i], 0, yStep[i]];
  grids.push({
    left: 152, width: 1672, top: 88 + 132 * i, height: 132,
    show: true, borderColor: '#000', borderWidth: 1, backgroundColor: 'transparent'
  });
  // bottom and top x axes (ticks inward on both sides)
  xAxes.push({
    type: 'value', gridIndex: i, position: 'bottom', min: X_MIN, max: X_MAX,
    axisLine: { show: false, onZero: false }, splitLine: { show: false },
    axisTick: { show: true, inside: true, length: 5, customValues: xTicks, lineStyle: { color: '#000', width: 1 } },
    axisLabel: { show: last, customValues: xTicks, margin: 6, fontSize: 13.9, color: '#000', fontFamily: FONT,
      formatter: function (v) { return String(v); } }
  });
  xAxes.push({
    type: 'value', gridIndex: i, position: 'top', min: X_MIN, max: X_MAX,
    axisLine: { show: false, onZero: false }, splitLine: { show: false },
    axisTick: { show: true, inside: true, length: 5, customValues: xTicks, lineStyle: { color: '#000', width: 1 } },
    axisLabel: { show: false }
  });
  yAxes.push({
    type: 'value', gridIndex: i, position: 'left', min: yMin[i], max: yMax[i],
    axisLine: { show: false, onZero: false }, splitLine: { show: false },
    axisTick: { show: true, inside: true, length: 5, customValues: yt, lineStyle: { color: '#000', width: 1 } },
    axisLabel: { show: true, customValues: yt, formatter: sci, margin: 6, fontSize: 13.9, color: '#000', fontFamily: FONT }
  });
  yAxes.push({
    type: 'value', gridIndex: i, position: 'right', min: yMin[i], max: yMax[i],
    axisLine: { show: false, onZero: false }, splitLine: { show: false },
    axisTick: { show: true, inside: true, length: 5, customValues: yt, lineStyle: { color: '#000', width: 1 } },
    axisLabel: { show: false }
  });

  var tr = traces[i];
  var pts = [];
  for (var k = 0; k < tr.length; k++) pts.push([T0 + k * DT, tr[k] * 1e-9]);

  series.push({
    type: 'line', xAxisIndex: 2 * i, yAxisIndex: 2 * i, data: pts,
    showSymbol: false, symbol: 'none', silent: true, animation: false,
    lineStyle: { color: '#1f77b4', width: 1 },
    markLine: {
      symbol: ['none', 'none'], silent: true, animation: false,
      label: { show: false },
      lineStyle: { type: [6, 2.6], width: 1.5 },
      data: [
        { xAxis: pdiffT[i], lineStyle: { color: C_PDIFF } },
        { xAxis: pkikpT, lineStyle: { color: C_PKIKP } },
        { xAxis: pkpT, lineStyle: { color: C_PKP } },
        { xAxis: pkikpRedT, lineStyle: { color: C_RED } },
        { xAxis: pkpLateT, lineStyle: { color: C_PKP } }
      ]
    }
  });
}

function txt(x, y, s, opt) {
  opt = opt || {};
  return {
    type: 'text', x: x, y: y, rotation: opt.rotation || 0, silent: true, z: 100,
    style: {
      text: s, fill: opt.color || '#000',
      font: (opt.size || 13.9) + 'px "DejaVu Sans"',
      align: opt.align || 'left', textAlign: opt.align || 'left',
      verticalAlign: opt.valign || 'middle', textVerticalAlign: opt.valign || 'middle'
    }
  };
}

var staticText = [
  txt(950, 17, 'M4.6 Fiji region 2019-09-01 17:18:26', { align: 'center' }),
  txt(950, 33, 'from the Raspberry Shake Network and BGS seismometers CCA1, HTL & DYA', { align: 'center' }),
  txt(950, 50, 'depth: 600.06 km, distance: 16653.0 km.', { align: 'center' }),
  txt(18, 551, 'Velocity [m/s]', { align: 'center', rotation: Math.PI / 2 }),
  txt(19, 1081, 'Channel: EHZ, filter: "bandpass", freqmin=1.3, freqmax=2.8, corners=4'),
  txt(950, 1081, 'Time since earthquake [s]', { align: 'center' }),
  txt(1520, 1051, 'First Arrivals at R7FA5'),
  txt(1520, 1064, 'Pdiff time: 982.51s', { color: '#ff7f0e' }),
  txt(1520, 1078, 'PKIKP time: 1116.92s', { color: '#1f77b4' }),
  txt(1520, 1092, 'PKP time: 1122.86s', { color: '#2ca02c' })
];
for (var j = 0; j < 7; j++) staticText.push(txt(170, 88 + 132 * j + 11, stationNames[j]));

myChart.setOption({
  animation: false,
  backgroundColor: '#fff',
  grid: grids,
  xAxis: xAxes,
  yAxis: yAxes,
  series: series,
  graphic: staticText
});

// phase names at the foot of every panel, placed through the axes
var phaseText = [];
for (var p = 0; p < 7; p++) {
  var yb = myChart.convertToPixel({ yAxisIndex: 2 * p }, yMin[p]);
  var marks = [
    [pdiffT[p], 'Pdiff', C_PDIFF],
    [pkikpT, 'PKIKP', C_PKIKP],
    [pkpT, 'PKP', C_PKP],
    [pkikpRedT, 'PKiKP', C_RED],
    [pkpLateT, 'PKP', C_PKP]
  ];
  marks.forEach(function (m) {
    var x = myChart.convertToPixel({ xAxisIndex: 2 * p }, m[0]);
    phaseText.push(txt(x - 3, yb - 1, m[1], { color: m[2], size: 15.3, align: 'right', valign: 'bottom' }));
  });
}
myChart.setOption({ graphic: staticText.concat(phaseText) });
</script>
</body>
</html>
